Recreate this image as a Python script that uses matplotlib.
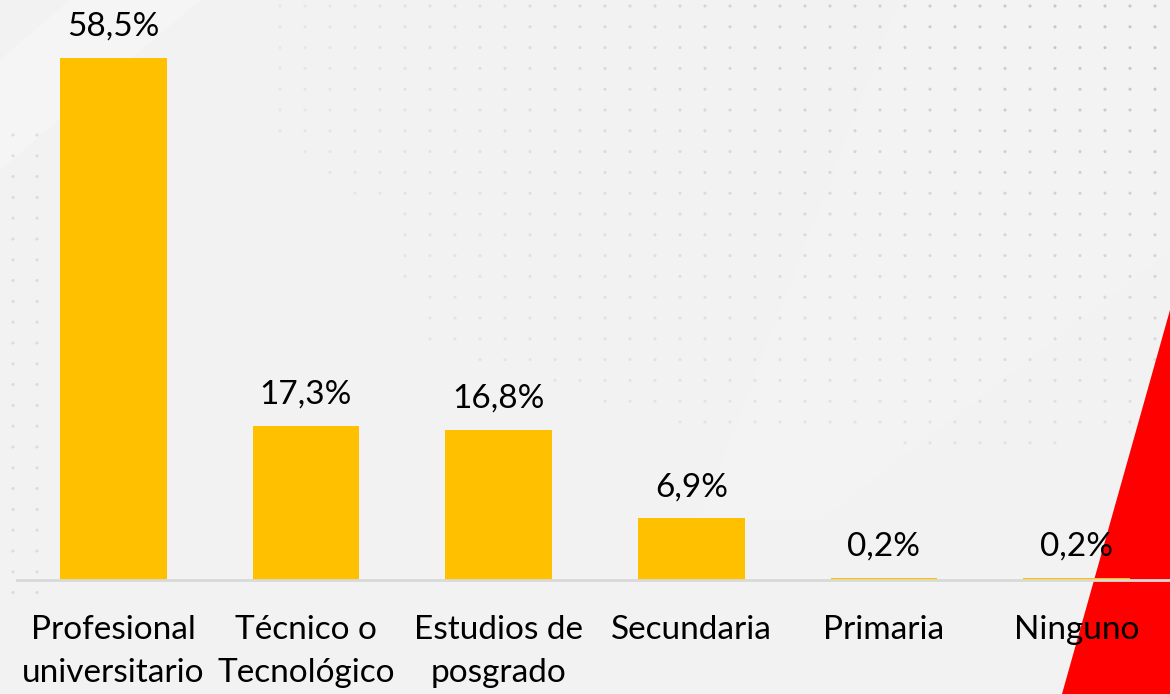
import numpy as np
import matplotlib
matplotlib.use("Agg")
import matplotlib.pyplot as plt
from matplotlib.patches import Polygon
from matplotlib.path import Path

categories = ["Profesional\nuniversitario", "Técnico o\nTecnológico", "Estudios de\nposgrado",
              "Secundaria", "Primaria", "Ninguno"]
values = [58.5, 17.3, 16.8, 6.9, 0.2, 0.2]
value_labels = ["58,5%", "17,3%", "16,8%", "6,9%", "0,2%", "0,2%"]

W, H = 1170, 694
plt.rcParams['font.family'] = ['Lato', 'DejaVu Sans']

fig = plt.figure(figsize=(W / 100, H / 100), dpi=100)
fig.patch.set_facecolor('#f2f2f2')

# background decoration in pixel coordinates
bg = fig.add_axes([0, 0, 1, 1], zorder=0)
bg.set_xlim(0, W)
bg.set_ylim(H, 0)
bg.axis('off')

# lighter swooshes
bg.add_patch(Polygon([(0, 60), (70, 0), (200, 0), (0, 170)], closed=True,
                     facecolor='white', alpha=0.3, lw=0))
bg.add_patch(Polygon([(820, 520), (1170, 250), (1170, 0), (900, 0), (700, 520)], closed=True,
                     facecolor='white', alpha=0.15, lw=0))

# dot pattern
area = Path([(270, 0), (1170, 0), (1170, 430), (1000, 450), (700, 430),
             (430, 350), (380, 210), (270, 140)])
xs, ys, alph = [], [], []
for gx in np.arange(280, 1170, 25):
    for gy in np.arange(6, 470, 20.8):
        if area.contains_point((gx, gy)):
            xs.append(gx)
            ys.append(gy)
            alph.append(min(1.0, 0.25 + 0.9 * (gx - 280) / 890 * (1 - gy / 520)))
for gx in [13, 37]:
    for gy in np.arange(135, 600, 20.8):
        xs.append(gx)
        ys.append(gy)
        alph.append(0.5)
cols = np.zeros((len(xs), 4))
cols[:, :3] = 0.78
cols[:, 3] = alph
bg.scatter(xs, ys, s=5, c=cols, lw=0)

# red shape at the right
bg.add_patch(Polygon([(1170, 310), (1062, 694), (1170, 694)], closed=True,
                     facecolor='#ff0000', lw=0))

# chart
ax = fig.add_axes([17 / W, 114 / H, 1156 / W, 580 / H], zorder=1)
ax.patch.set_alpha(0)
x = np.arange(len(categories))
bars = ax.bar(x, values, width=0.555, color='#ffc000', zorder=2)
ax.set_xlim(-0.5, len(categories) - 0.5)
ax.set_ylim(0, 65)

for b, lab in zip(bars, value_labels):
    ax.annotate(lab, (b.get_x() + b.get_width() / 2, b.get_height()),
                xytext=(0, 16), textcoords='offset points',
                ha='center', va='baseline', fontsize=24, color='black')

ax.set_xticks(x)
ax.set_xticklabels(categories, fontsize=24, linespacing=1.55, va='top')
ax.tick_params(axis='x', length=0, pad=25)
ax.set_yticks([])
for s in ['left', 'right', 'top']:
    ax.spines[s].set_visible(False)
ax.spines['bottom'].set_color('#d9d9d9')
ax.spines['bottom'].set_linewidth(2)

fig.savefig('out.png', dpi=100, facecolor=fig.get_facecolor())
